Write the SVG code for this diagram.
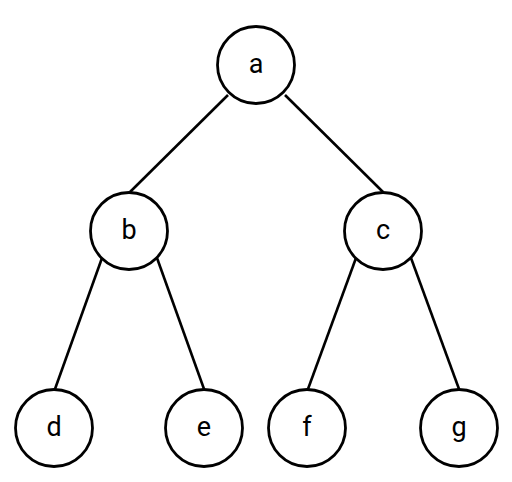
<svg xmlns="http://www.w3.org/2000/svg" width="512" height="482" viewBox="0 0 512 482">
<style>
.n circle{fill:#fff;stroke:#000;stroke-width:2.8}
.n text{font-family:Roboto,"Liberation Sans",sans-serif;font-size:27px;fill:#000;text-anchor:middle}
#edges line{stroke:#000;stroke-width:2.6}
</style>
<rect width="512" height="482" fill="#fff"/>
<g id="edges">
<line x1="228" y1="95" x2="130" y2="192"/>
<line x1="285" y1="95" x2="383" y2="192"/>
<line x1="102" y1="258" x2="55" y2="389"/>
<line x1="157" y1="258" x2="204" y2="389"/>
<line x1="356" y1="258" x2="308" y2="389"/>
<line x1="411" y1="258" x2="459" y2="389"/>
</g>
<g id="a" class="n"><circle cx="256" cy="65" r="38.5"/><text x="256" y="73">a</text></g>
<g id="b" class="n"><circle cx="129" cy="231" r="38.5"/><text x="129" y="239">b</text></g>
<g id="c" class="n"><circle cx="383" cy="231" r="38.5"/><text x="383" y="239">c</text></g>
<g id="d" class="n"><circle cx="54" cy="428" r="38.5"/><text x="54" y="436">d</text></g>
<g id="e" class="n"><circle cx="204" cy="428" r="38.5"/><text x="204" y="436">e</text></g>
<g id="f" class="n"><circle cx="307" cy="428" r="38.5"/><text x="307" y="436">f</text></g>
<g id="g" class="n"><circle cx="459" cy="428" r="38.5"/><text x="459" y="436">g</text></g>
</svg>
